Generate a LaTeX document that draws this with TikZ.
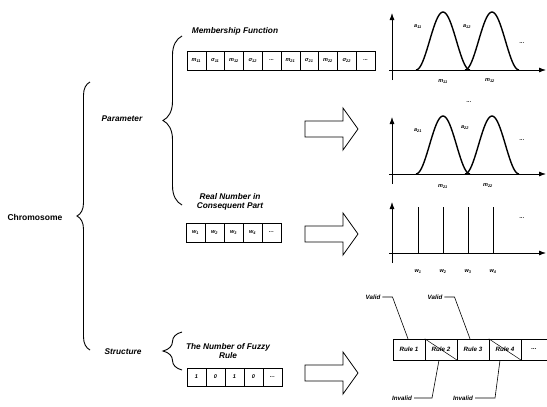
\documentclass[tikz,border=0pt]{standalone}
\usepackage{fontspec}
\setmainfont{Liberation Sans}
\usetikzlibrary{arrows.meta,decorations.pathreplacing}
\tikzset{
  lbl/.style={font=\fontsize{8.3}{9.5}\selectfont\bfseries\itshape, inner sep=0pt, align=center},
  cell/.style={draw, minimum width=18.8pt, minimum height=19pt, inner sep=0pt, font=\fontsize{5.5}{6}\selectfont\bfseries\itshape},
  rulecell/.style={draw, minimum width=32pt, minimum height=21pt, inner sep=0pt, font=\fontsize{6.2}{7}\selectfont\bfseries\itshape},
  tick/.style={font=\fontsize{5.5}{6}\selectfont\bfseries\itshape, inner sep=0pt},
  note/.style={font=\fontsize{6.2}{7}\selectfont\bfseries\itshape, inner sep=0pt},
  axis/.style={-{Latex[length=7pt,width=5pt]}, line width=0.8pt},
  bell/.style={line width=1.4pt},
  bracket/.style={decorate, decoration={brace, amplitude=#1}, line width=0.9pt},
  bigarrow/.pic={\draw[line width=0.8pt] (0,-8) -- (38,-8) -- (38,-21) -- (53,0) -- (38,21) -- (38,8) -- (0,8) -- cycle;}
}
\begin{document}
\begin{tikzpicture}[x=1pt,y=-1pt]
\useasboundingbox (0,0) rectangle (547,407);
% braces
\node[lbl, font=\fontsize{8.5}{9.5}\selectfont\bfseries] (chrom) at (35,217) {Chromosome};
\draw[bracket=13pt] (90,350) -- (90,82);
\node[lbl] (param) at (122,119) {Parameter};
\draw[bracket=19pt] (182,205) -- (182,36);
\node[lbl] (struct) at (123,352) {Structure};
\draw[bracket=19pt] (182,370) -- (182,332);
% membership function genes
\node[lbl] (mftitle) at (235,31) {Membership Function};
\node[cell] (m11) at (196.4,60.5) {m\textsubscript{11}};
\node[cell] (s11) at (215.2,60.5) {σ\textsubscript{11}};
\node[cell] (m12) at (234.0,60.5) {m\textsubscript{12}};
\node[cell] (s12) at (252.8,60.5) {σ\textsubscript{12}};
\node[cell] (d1)  at (271.6,60.5) {...};
\node[cell] (m21) at (290.4,60.5) {m\textsubscript{21}};
\node[cell] (s21) at (309.2,60.5) {σ\textsubscript{21}};
\node[cell] (m22) at (328.0,60.5) {m\textsubscript{22}};
\node[cell] (s22) at (346.8,60.5) {σ\textsubscript{22}};
\node[cell] (d2)  at (365.6,60.5) {...};
% consequent genes
\node[lbl] (rntitle) at (230,202) {Real Number in\\Consequent Part};
\node[cell, minimum width=19pt] (w1) at (195.5,232.5) {w\textsubscript{1}};
\node[cell, minimum width=19pt] (w2) at (214.5,232.5) {w\textsubscript{2}};
\node[cell, minimum width=19pt] (w3) at (233.5,232.5) {w\textsubscript{3}};
\node[cell, minimum width=19pt] (w4) at (252.5,232.5) {w\textsubscript{4}};
\node[cell, minimum width=19pt] (w5) at (271.5,232.5) {...};
% structure genes
\node[lbl] (nrtitle) at (228,351) {The Number of Fuzzy\\Rule};
\node[cell, minimum width=19pt, minimum height=18pt] (b1) at (196.5,377) {1};
\node[cell, minimum width=19pt, minimum height=18pt] (b2) at (215.5,377) {0};
\node[cell, minimum width=19pt, minimum height=18pt] (b3) at (234.5,377) {1};
\node[cell, minimum width=19pt, minimum height=18pt] (b4) at (253.5,377) {0};
\node[cell, minimum width=19pt, minimum height=18pt] (b5) at (272.5,377) {...};
% block arrows
\pic at (305,129) {bigarrow};
\pic at (305,234) {bigarrow};
\pic at (305,373) {bigarrow};
% first membership graph
\draw[axis] (392,80) -- (392,13);
\draw[axis] (389,70) -- (546,70);
\draw[bell] plot[domain=-27:27, samples=41] ({443+\x},{70-58*(1+cos(180*\x/27))/2});
\draw[bell] plot[domain=-27:27, samples=41] ({492+\x},{70-58*(1+cos(180*\x/27))/2});
\node[tick] (a11) at (418,27) {a\textsubscript{11}};
\node[tick] (a12) at (467,27) {a\textsubscript{12}};
\node[tick] (g1d) at (522,43) {...};
\node[tick] (t11) at (443,82) {m\textsubscript{11}};
\node[tick] (t12) at (490,81) {m\textsubscript{12}};
\node[tick] (gd)  at (469,102) {...};
% second membership graph
\draw[axis] (392,184) -- (392,117);
\draw[axis] (389,174) -- (546,174);
\draw[bell] plot[domain=-27:27, samples=41] ({443+\x},{174-58*(1+cos(180*\x/27))/2});
\draw[bell] plot[domain=-27:27, samples=41] ({492+\x},{174-58*(1+cos(180*\x/27))/2});
\node[tick] (a21) at (418,131) {a\textsubscript{21}};
\node[tick] (a22) at (465,128) {a\textsubscript{22}};
\node[tick] (g2d) at (522,140) {...};
\node[tick] (t21) at (443,187) {m\textsubscript{21}};
\node[tick] (t22) at (488,186) {m\textsubscript{22}};
% singleton graph
\draw[axis] (392,263) -- (392,202);
\draw[axis] (389,253) -- (546,253);
\draw[line width=1pt] (418,253) -- (418,207) (443,253) -- (443,207)
  (468,253) -- (468,207) (493,253) -- (493,207);
\node[tick] (v1) at (418,272) {w\textsubscript{1}};
\node[tick] (v2) at (443,272) {w\textsubscript{2}};
\node[tick] (v3) at (468,272) {w\textsubscript{3}};
\node[tick] (v4) at (493,272) {w\textsubscript{4}};
\node[tick] (g3d) at (522,218) {...};
% rule base
\node[rulecell] (r1) at (409,349.5) {Rule 1};
\node[rulecell] (r2) at (441,349.5) {Rule 2};
\node[rulecell] (r3) at (473,349.5) {Rule 3};
\node[rulecell] (r4) at (505,349.5) {Rule 4};
\node[rulecell, minimum width=26pt] (r5) at (534,349.5) {...};
\draw[line width=0.5pt] (r2.north west) -- (r2.south east);
\draw[line width=0.5pt] (r4.north west) -- (r4.south east);
\node[note] (val1) at (373,297) {Valid};
\node[note] (val2) at (435,297) {Valid};
\node[note] (inv1) at (402,398) {Invalid};
\node[note] (inv2) at (463,398) {Invalid};
\draw[line width=0.6pt] (val1.east) ++(2,0) -- ++(10,0) -- ([xshift=-1pt]r1.north);
\draw[line width=0.6pt] (val2.east) ++(2,0) -- ++(10,0) -- ([xshift=-3pt]r3.north);
\draw[line width=0.6pt] (inv1.east) ++(2,0) -- ++(18,0) -- ([xshift=-2pt]r2.south);
\draw[line width=0.6pt] (inv2.east) ++(2,0) -- ++(20,0) -- ([xshift=-5pt]r4.south);
\end{tikzpicture}
\end{document}
